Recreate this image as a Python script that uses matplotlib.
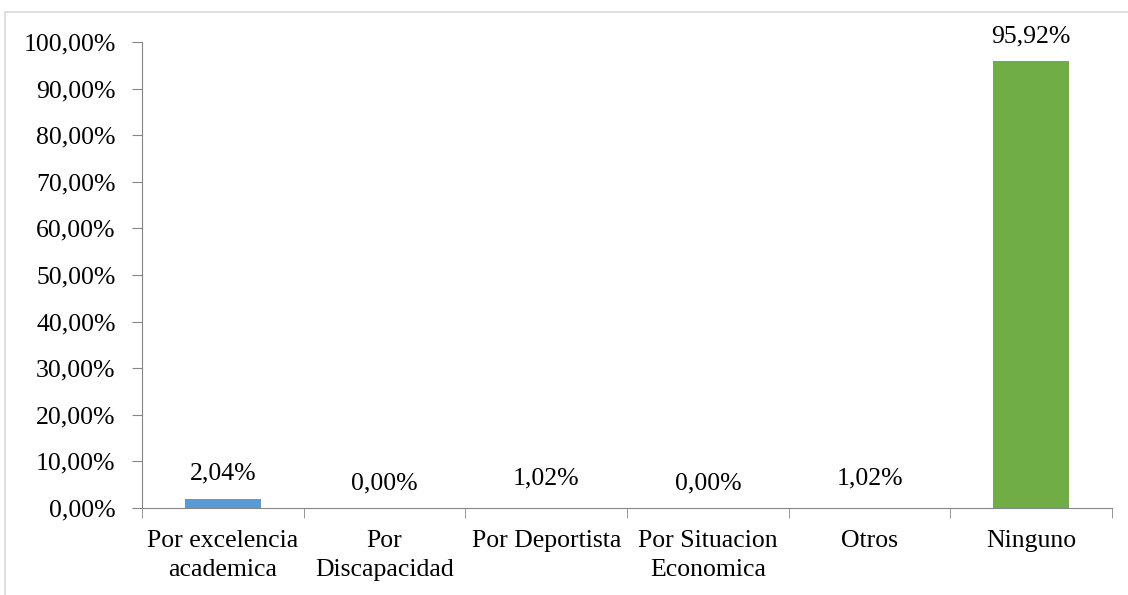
import matplotlib.pyplot as plt
from matplotlib.patches import Rectangle
from matplotlib.ticker import FixedLocator

categorias = ['Por excelencia\nacademica', 'Por\nDiscapacidad', 'Por Deportista',
              'Por Situacion\nEconomica', 'Otros', 'Ninguno']
valores = [0.0204, 0.0, 0.0102, 0.0, 0.0102, 0.9592]
colores = ['#5B9BD5', 'none', 'none', 'none', 'none', '#70AD47']

plt.rcParams['font.family'] = ['Liberation Serif', 'DejaVu Serif']
fs = 18.5

fig = plt.figure(figsize=(11.28, 5.95), dpi=100)
ax = fig.add_axes([0.1259, 0.1462, 0.86, 0.7832])

# borde gris del grafico
fig.patches.append(Rectangle((0.0044, -0.01), 1.0, 0.99, transform=fig.transFigure,
                             fill=False, edgecolor='#D9D9D9', linewidth=1.2))

x = list(range(len(categorias)))
ax.bar(x, valores, width=0.47, color=colores, edgecolor='none')

for xi, v in zip(x, valores):
    txt = '{:.2f}%'.format(v * 100).replace('.', ',')
    ax.annotate(txt, (xi, v), xytext=(0, 18), textcoords='offset points',
                ha='center', va='center', fontsize=fs, color='black')

ax.set_xlim(-0.5, len(categorias) - 0.5)
ax.set_ylim(0, 1)
ax.set_yticks([i / 10 for i in range(11)])
ax.set_yticklabels(['{},00%'.format(i * 10) for i in range(11)], fontsize=fs)

ax.set_xticks(x)
ax.set_xticklabels(categorias, fontsize=fs, linespacing=1.4)
ax.xaxis.set_minor_locator(FixedLocator([i - 0.5 for i in range(len(categorias) + 1)]))
ax.tick_params(axis='x', which='major', length=0, pad=16)
ax.tick_params(axis='x', which='minor', length=7, color='#868686', direction='out')
ax.tick_params(axis='y', length=7, color='#868686', pad=12)

for s in ['top', 'right']:
    ax.spines[s].set_visible(False)
for s in ['left', 'bottom']:
    ax.spines[s].set_color('#868686')

fig.savefig('out.png', dpi=100)
